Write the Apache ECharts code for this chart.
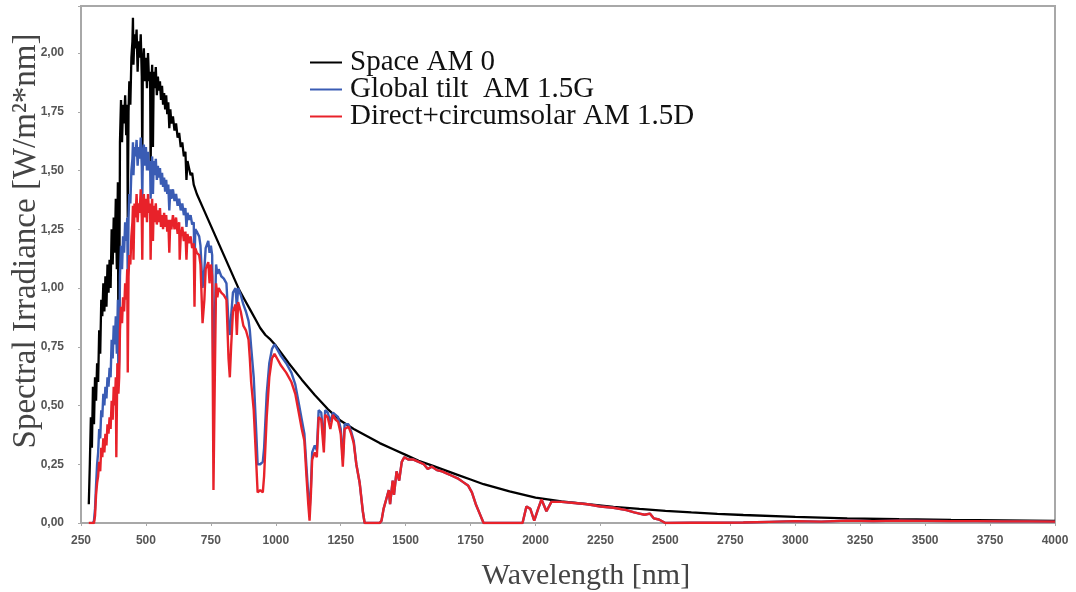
<!DOCTYPE html>
<html>
<head>
<meta charset="utf-8">
<script src="https://cdn.jsdelivr.net/npm/echarts@6/dist/echarts.min.js"></script>
<style>
html,body{margin:0;padding:0;background:#fff;}
#chart{width:1076px;height:592px;}
</style>
</head>
<body>
<div id="chart"></div>
<script>
// ---- Data: [wavelength nm, W/m²/nm] ----
const xTicks = [250,500,750,1000,1250,1500,1750,2000,2250,2500,2750,3000,3250,3500,3750,4000];
const yTicks = [0,0.25,0.5,0.75,1,1.25,1.5,1.75,2];
const seriesNames = ["Space AM 0", "Global tilt  AM 1.5G", "Direct+circumsolar AM 1.5D"];

// Space AM 0
const am0 = [[280,0.08],[284,0.25],[288,0.45],[292,0.32],[296,0.58],[300,0.42],[304,0.62],[308,0.52],[312,0.68],[316,0.60],[320,0.82],[324,0.72],[328,0.95],[332,0.88],[336,1.02],[340,0.90],[344,1.05],[348,0.92],[352,1.10],[356,0.98],[360,1.12],[364,1.00],[368,1.25],[372,1.10],[376,1.30],[380,1.15],[384,1.38],[388,1.08],[392,1.45],[394,0.72],[397,0.80],[400,1.62],[404,1.80],[408,1.62],[412,1.78],[416,1.70],[420,1.82],[424,1.65],[428,1.78],[430,1.30],[433,1.75],[436,1.88],[440,1.78],[444,1.98],[448,2.05],[450,2.15],[452,1.95],[456,2.08],[460,2.02],[464,2.10],[468,1.92],[472,2.05],[476,1.98],[480,2.08],[484,1.90],[486,1.50],[488,1.95],[492,2.02],[496,1.88],[500,1.98],[504,1.85],[508,2.00],[512,1.88],[516,1.92],[518,1.50],[521,1.85],[524,1.95],[527,1.60],[530,1.92],[534,1.85],[538,1.94],[542,1.82],[546,1.90],[550,1.84],[554,1.88],[558,1.80],[562,1.86],[566,1.78],[570,1.83],[574,1.76],[578,1.82],[582,1.74],[586,1.79],[590,1.68],[594,1.76],[598,1.70],[604,1.73],[610,1.67],[616,1.70],[622,1.64],[628,1.66],[634,1.60],[640,1.62],[646,1.56],[652,1.58],[656,1.46],[660,1.54],[666,1.51],[672,1.48],[678,1.49],[684,1.44],[690,1.44],[696,1.40],[700,1.40],[720,1.34],[740,1.29],[760,1.24],[780,1.19],[800,1.14],[820,1.09],[840,1.04],[860,0.99],[880,0.95],[900,0.91],[920,0.87],[940,0.83],[960,0.80],[980,0.78],[1000,0.755],[1050,0.68],[1100,0.61],[1150,0.545],[1200,0.485],[1250,0.435],[1300,0.40],[1350,0.37],[1400,0.34],[1450,0.315],[1500,0.29],[1550,0.265],[1600,0.245],[1650,0.225],[1700,0.205],[1750,0.185],[1800,0.165],[1900,0.135],[2000,0.108],[2100,0.092],[2200,0.080],[2300,0.069],[2400,0.060],[2500,0.052],[2600,0.045],[2700,0.039],[2800,0.034],[3000,0.026],[3200,0.020],[3400,0.016],[3600,0.013],[3800,0.011],[4000,0.009]];

// Global tilt AM 1.5G
const am15g = [[296,0],[300,0.01],[304,0.06],[308,0.16],[312,0.25],[316,0.30],[320,0.40],[324,0.36],[328,0.48],[332,0.45],[336,0.55],[340,0.50],[344,0.58],[348,0.53],[352,0.62],[356,0.58],[360,0.66],[364,0.62],[368,0.78],[372,0.70],[376,0.84],[380,0.76],[384,0.88],[388,0.72],[392,0.95],[394,0.60],[397,0.70],[400,1.05],[404,1.18],[408,1.08],[412,1.22],[416,1.15],[420,1.28],[424,1.20],[428,1.30],[430,1.02],[433,1.30],[436,1.40],[440,1.36],[444,1.50],[448,1.55],[450,1.62],[452,1.48],[456,1.60],[460,1.56],[464,1.63],[468,1.52],[472,1.60],[476,1.55],[480,1.64],[484,1.52],[486,1.38],[488,1.56],[492,1.61],[496,1.52],[500,1.60],[504,1.50],[508,1.58],[512,1.50],[516,1.54],[518,1.38],[521,1.50],[524,1.56],[527,1.40],[530,1.54],[534,1.48],[538,1.55],[542,1.46],[546,1.52],[550,1.47],[554,1.51],[558,1.44],[562,1.49],[566,1.43],[570,1.47],[574,1.41],[578,1.46],[582,1.40],[586,1.44],[590,1.33],[594,1.42],[598,1.38],[604,1.42],[610,1.37],[616,1.40],[622,1.35],[628,1.38],[634,1.33],[640,1.36],[646,1.31],[652,1.34],[656,1.26],[660,1.32],[666,1.29],[672,1.31],[678,1.27],[684,1.28],[687,1.10],[690,1.25],[696,1.24],[700,1.23],[705,1.22],[710,1.18],[718,1.00],[725,1.08],[730,1.17],[740,1.20],[745,1.15],[750,1.18],[755,1.14],[760,0.50],[765,0.85],[770,1.10],[775,1.06],[780,1.08],[790,1.05],[800,1.04],[810,1.02],[818,0.85],[823,0.80],[828,0.88],[835,0.98],[845,1.00],[850,0.92],[855,1.00],[865,0.97],[875,0.93],[885,0.90],[895,0.86],[900,0.82],[905,0.75],[915,0.62],[925,0.38],[930,0.25],[940,0.25],[950,0.26],[955,0.32],[965,0.55],[975,0.68],[985,0.74],[995,0.76],[1005,0.74],[1020,0.71],[1040,0.68],[1060,0.64],[1075,0.59],[1090,0.50],[1100,0.44],[1110,0.38],[1118,0.24],[1125,0.12],[1130,0.05],[1135,0.15],[1140,0.30],[1150,0.33],[1158,0.31],[1165,0.48],[1175,0.47],[1185,0.34],[1190,0.48],[1200,0.47],[1210,0.43],[1220,0.47],[1230,0.46],[1240,0.45],[1250,0.40],[1258,0.27],[1265,0.42],[1280,0.42],[1290,0.39],[1300,0.35],[1310,0.25],[1323,0.17],[1335,0.05],[1342,0],[1400,0],[1407,0.01],[1415,0.06],[1425,0.10],[1435,0.14],[1440,0.08],[1450,0.18],[1455,0.12],[1465,0.22],[1475,0.18],[1485,0.26],[1495,0.28],[1510,0.27],[1530,0.27],[1550,0.26],[1570,0.25],[1585,0.23],[1600,0.24],[1620,0.225],[1640,0.22],[1660,0.21],[1680,0.20],[1700,0.19],[1720,0.175],[1740,0.16],[1755,0.13],[1770,0.08],[1785,0.04],[1800,0],[1950,0],[1965,0.07],[1980,0.06],[1995,0.01],[2010,0.06],[2023,0.10],[2042,0.05],[2061,0.09],[2080,0.09],[2100,0.09],[2150,0.085],[2200,0.08],[2250,0.07],[2300,0.065],[2350,0.055],[2380,0.045],[2400,0.04],[2420,0.035],[2440,0.04],[2455,0.02],[2475,0.015],[2500,0],[2600,0.001],[2700,0.001],[2800,0.002],[2900,0.005],[3000,0.008],[3100,0.006],[3200,0.01],[3300,0.008],[3400,0.01],[3500,0.009],[3600,0.008],[3700,0.008],[3800,0.007],[3900,0.007],[4000,0.006]];

// Direct+circumsolar AM 1.5D
const am15d = [[280,0],[300,0],[304,0.03],[308,0.12],[312,0.17],[316,0.20],[320,0.26],[324,0.22],[328,0.32],[332,0.28],[336,0.36],[340,0.30],[344,0.38],[348,0.33],[352,0.42],[356,0.38],[360,0.45],[364,0.40],[368,0.52],[372,0.44],[376,0.58],[380,0.50],[384,0.62],[386,0.28],[390,0.68],[394,0.55],[397,0.62],[400,0.82],[404,0.92],[408,0.85],[412,0.96],[416,0.90],[420,1.02],[424,0.95],[428,1.08],[430,0.64],[433,1.05],[436,1.14],[440,1.10],[444,1.22],[448,1.28],[450,1.35],[452,1.12],[456,1.36],[460,1.30],[464,1.40],[468,1.28],[472,1.36],[476,1.32],[480,1.42],[484,1.30],[486,1.12],[488,1.34],[492,1.40],[496,1.30],[500,1.38],[504,1.28],[508,1.40],[512,1.32],[516,1.36],[518,1.12],[521,1.32],[524,1.38],[527,1.20],[530,1.35],[534,1.28],[538,1.36],[542,1.27],[546,1.33],[550,1.28],[554,1.34],[558,1.26],[562,1.31],[566,1.25],[570,1.32],[574,1.26],[578,1.31],[582,1.24],[586,1.29],[590,1.15],[594,1.29],[598,1.25],[604,1.31],[610,1.25],[616,1.30],[622,1.23],[628,1.28],[630,1.12],[634,1.22],[640,1.26],[646,1.20],[652,1.24],[656,1.12],[660,1.23],[666,1.19],[672,1.22],[678,1.17],[684,1.19],[687,0.92],[690,1.17],[696,1.15],[700,1.15],[705,1.14],[710,1.10],[718,0.85],[725,0.95],[730,1.08],[740,1.11],[745,1.02],[750,1.10],[755,1.05],[760,0.14],[765,0.60],[770,1.02],[775,0.96],[780,1.00],[790,0.98],[800,0.97],[810,0.95],[818,0.70],[823,0.62],[828,0.75],[835,0.90],[845,0.93],[850,0.80],[855,0.94],[865,0.90],[875,0.84],[885,0.82],[895,0.78],[900,0.70],[905,0.60],[915,0.48],[925,0.25],[930,0.13],[940,0.14],[950,0.13],[955,0.20],[965,0.45],[975,0.62],[985,0.70],[995,0.72],[1005,0.70],[1020,0.67],[1040,0.64],[1060,0.60],[1075,0.55],[1090,0.46],[1100,0.40],[1110,0.35],[1118,0.20],[1125,0.08],[1130,0.01],[1135,0.12],[1140,0.27],[1150,0.30],[1158,0.28],[1165,0.45],[1175,0.44],[1185,0.30],[1190,0.46],[1200,0.45],[1210,0.40],[1220,0.46],[1230,0.44],[1240,0.43],[1250,0.38],[1258,0.24],[1265,0.40],[1280,0.41],[1290,0.38],[1300,0.34],[1310,0.25],[1323,0.17],[1335,0.05],[1342,0],[1400,0],[1407,0.01],[1415,0.06],[1425,0.10],[1435,0.14],[1440,0.08],[1450,0.18],[1455,0.12],[1465,0.22],[1475,0.18],[1485,0.26],[1495,0.28],[1510,0.27],[1530,0.27],[1550,0.26],[1570,0.25],[1585,0.23],[1600,0.24],[1620,0.225],[1640,0.22],[1660,0.21],[1680,0.20],[1700,0.19],[1720,0.175],[1740,0.16],[1755,0.13],[1770,0.08],[1785,0.04],[1800,0],[1950,0],[1965,0.07],[1980,0.06],[1995,0.01],[2010,0.06],[2023,0.10],[2042,0.05],[2061,0.09],[2080,0.09],[2100,0.09],[2150,0.085],[2200,0.08],[2250,0.07],[2300,0.065],[2350,0.055],[2380,0.045],[2400,0.04],[2420,0.035],[2440,0.04],[2455,0.02],[2475,0.015],[2500,0],[2600,0.001],[2700,0.001],[2800,0.002],[2900,0.005],[3000,0.008],[3100,0.006],[3200,0.01],[3300,0.008],[3400,0.01],[3500,0.009],[3600,0.008],[3700,0.008],[3800,0.007],[3900,0.007],[4000,0.006]];

const chart = echarts.init(document.getElementById('chart'), null, {renderer: 'canvas'});
const serif = '"Liberation Serif", "DejaVu Serif", serif';
const sans = '"Liberation Sans", Arial, sans-serif';
const fmtY = v => {
  const ok = yTicks.some(t => Math.abs(t - v) < 1e-6);
  return ok ? v.toFixed(2).replace('.', ',') : '';
};
const fmtX = v => xTicks.indexOf(v) >= 0 ? String(v) : '';

chart.setOption({
  animation: false,
  backgroundColor: '#fff',
  grid: {left: 81, right: 21, top: 6, bottom: 69, containLabel: false, outerBoundsMode: 'none',
         show: true, borderColor: '#a8a8a8', borderWidth: 2, backgroundColor: '#fff'},
  legend: {
    orient: 'vertical', left: 305, top: 43,
    itemWidth: 32, itemHeight: 2, itemGap: -2,
    icon: 'rect',
    textStyle: {fontFamily: serif, fontSize: 29, color: '#111', padding: [0,0,0,3]},
    data: seriesNames
  },
  xAxis: {
    type: 'value', min: 250, max: 4000, interval: 250,
    name: 'Wavelength [nm]', nameLocation: 'middle', nameGap: 38, nameMoveOverlap: false,
    nameTextStyle: {fontFamily: serif, fontSize: 30, color: '#444', padding: [0,0,0,36]},
    axisLine: {lineStyle: {color: '#a8a8a8', width: 2}},
    axisTick: {show: true, length: 3, lineStyle: {color: '#a8a8a8'}},
    axisLabel: {formatter: fmtX, fontFamily: sans, fontWeight: 'bold', fontSize: 12, color: '#555', margin: 12},
    splitLine: {show: false}
  },
  yAxis: {
    type: 'value', min: 0, max: 2.2, interval: 0.25,
    name: 'Spectral Irradiance [W/m²*nm]', nameLocation: 'middle', nameGap: 38, nameMoveOverlap: false,
    nameTextStyle: {fontFamily: serif, fontSize: 33, color: '#444', padding: [0,0,0,47]},
    axisLine: {show: true, lineStyle: {color: '#a8a8a8', width: 2}},
    axisTick: {show: true, length: 3, lineStyle: {color: '#a8a8a8'}},
    axisLabel: {formatter: fmtY, fontFamily: sans, fontWeight: 'bold', fontSize: 12, color: '#555', margin: 17},
    splitLine: {show: false}
  },
  series: [
    {name: seriesNames[0], type: 'line', data: am0, showSymbol: false, color: '#000000', lineStyle: {width: 2.3, color: '#000000'}, z: 2},
    {name: seriesNames[1], type: 'line', data: am15g, showSymbol: false, color: '#3a5cb4', lineStyle: {width: 2.4, color: '#3a5cb4'}, z: 3},
    {name: seriesNames[2], type: 'line', data: am15d, showSymbol: false, color: '#e8222a', lineStyle: {width: 2.4, color: '#e8222a'}, z: 4}
  ]
});
</script>
</body>
</html>
